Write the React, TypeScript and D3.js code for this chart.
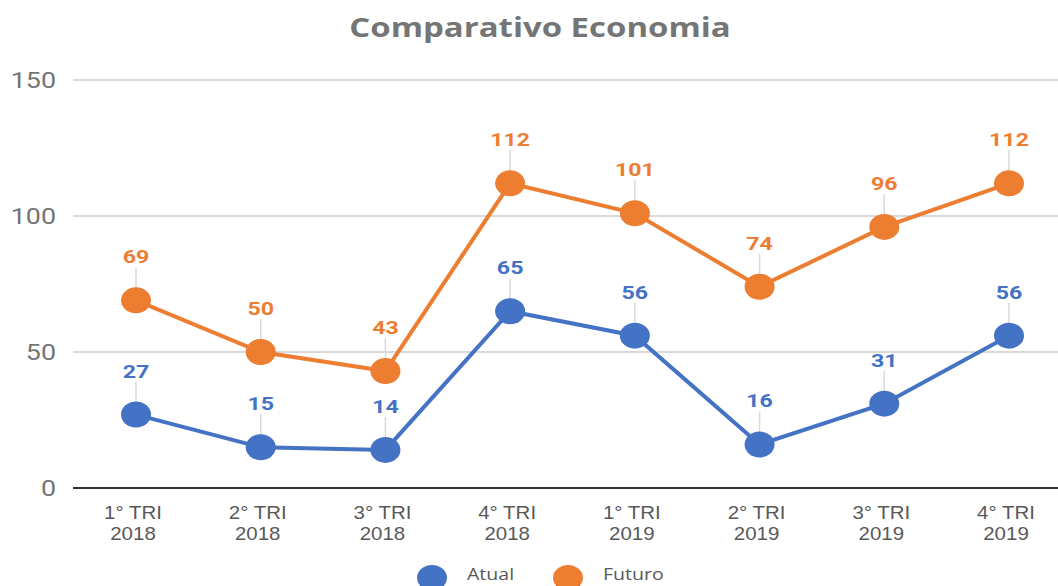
import React from "react";
import * as d3 from "d3";

const categories = [
  ["1° TRI", "2018"],
  ["2° TRI", "2018"],
  ["3° TRI", "2018"],
  ["4° TRI", "2018"],
  ["1° TRI", "2019"],
  ["2° TRI", "2019"],
  ["3° TRI", "2019"],
  ["4° TRI", "2019"],
];
const atual = [27, 15, 14, 65, 56, 16, 31, 56];
const futuro = [69, 50, 43, 112, 101, 74, 96, 112];
const yTickValues = [0, 50, 100, 150];

const seriesList = [
  { name: "Atual", values: atual, color: "#4472C4" },
  { name: "Futuro", values: futuro, color: "#ED7D31" },
];

// the source picture is stretched sideways, so text gets a little x-scale
const SX = 1.22;

function SText({ x, y, sx = SX, anchor = "middle", style, children }: any) {
  return (
    <text
      transform={`translate(${x},${y}) scale(${sx},1)`}
      textAnchor={anchor}
      style={style}
    >
      {children}
    </text>
  );
}

export default function App() {
  const width = 1058;
  const height = 586;

  const keys = categories.map((c, i) => String(i));
  const xScale = d3.scalePoint<string>().domain(keys).range([136, 1009]);
  const yScale = d3.scaleLinear().domain([0, 150]).range([488, 80]);

  const line = d3
    .line<number>()
    .x((_, i) => xScale(String(i)) as number)
    .y((d) => yScale(d));

  return (
    <svg
      width={width}
      height={height}
      style={{ position: "absolute", left: 0, top: 0, background: "#fff" }}
    >
      <SText
        x={540}
        y={37}
        style={{ fontFamily: "Open Sans", fontWeight: 700, fontSize: 27, fill: "#757575" }}
      >
        Comparativo Economia
      </SText>

      {/* grid + y ticks */}
      {yTickValues.map((t) => (
        <g key={t}>
          <line
            x1={73}
            x2={1058}
            y1={yScale(t)}
            y2={yScale(t)}
            stroke={t === 0 ? "#333" : "#ccc"}
            strokeWidth={t === 0 ? 2 : 1.5}
          />
          <SText
            x={56}
            y={yScale(t) + 8}
            anchor="end"
            style={{ fontFamily: "Roboto", fontSize: 22, fill: "#757575" }}
          >
            {t}
          </SText>
        </g>
      ))}

      {/* x labels */}
      {categories.map((c, i) => (
        <g key={i}>
          <SText
            x={xScale(String(i))! - 3}
            y={519}
            sx={1.17}
            style={{ fontFamily: "Liberation Sans", fontSize: 17.5, fill: "#595959" }}
          >
            {c[0]}
          </SText>
          <SText
            x={xScale(String(i))! - 3}
            y={540}
            sx={1.17}
            style={{ fontFamily: "Liberation Sans", fontSize: 17.5, fill: "#595959" }}
          >
            {c[1]}
          </SText>
        </g>
      ))}

      {/* leader lines */}
      {seriesList.map((s) =>
        s.values.map((v, i) => (
          <line
            key={s.name + "-l-" + i}
            x1={xScale(String(i))}
            x2={xScale(String(i))}
            y1={yScale(v) - 12}
            y2={yScale(v) - 33}
            stroke="#d9d9d9"
            strokeWidth={1.5}
          />
        ))
      )}

      {seriesList.map((s) => (
        <g key={s.name}>
          <path d={line(s.values) || ""} fill="none" stroke={s.color} strokeWidth={4} />
          {s.values.map((v, i) => (
            <ellipse
              key={i}
              cx={xScale(String(i))}
              cy={yScale(v)}
              rx={15}
              ry={13}
              fill={s.color}
            />
          ))}
          {s.values.map((v, i) => (
            <SText
              key={"t" + i}
              x={xScale(String(i))}
              y={yScale(v) - 37}
              style={{ fontFamily: "Roboto", fontWeight: 700, fontSize: 19, fill: s.color }}
            >
              {v}
            </SText>
          ))}
        </g>
      ))}

      {/* legend */}
      {seriesList.map((s, i) => {
        const lx = 432 + i * 136;
        return (
          <g key={"lg" + s.name}>
            <ellipse cx={lx} cy={578} rx={15} ry={13} fill={s.color} />
            <SText
              x={lx + 35}
              y={580}
              anchor="start"
              sx={1.15}
              style={{ fontFamily: "Open Sans", fontSize: 17, fill: "#595959" }}
            >
              {s.name}
            </SText>
          </g>
        );
      })}
    </svg>
  );
}
